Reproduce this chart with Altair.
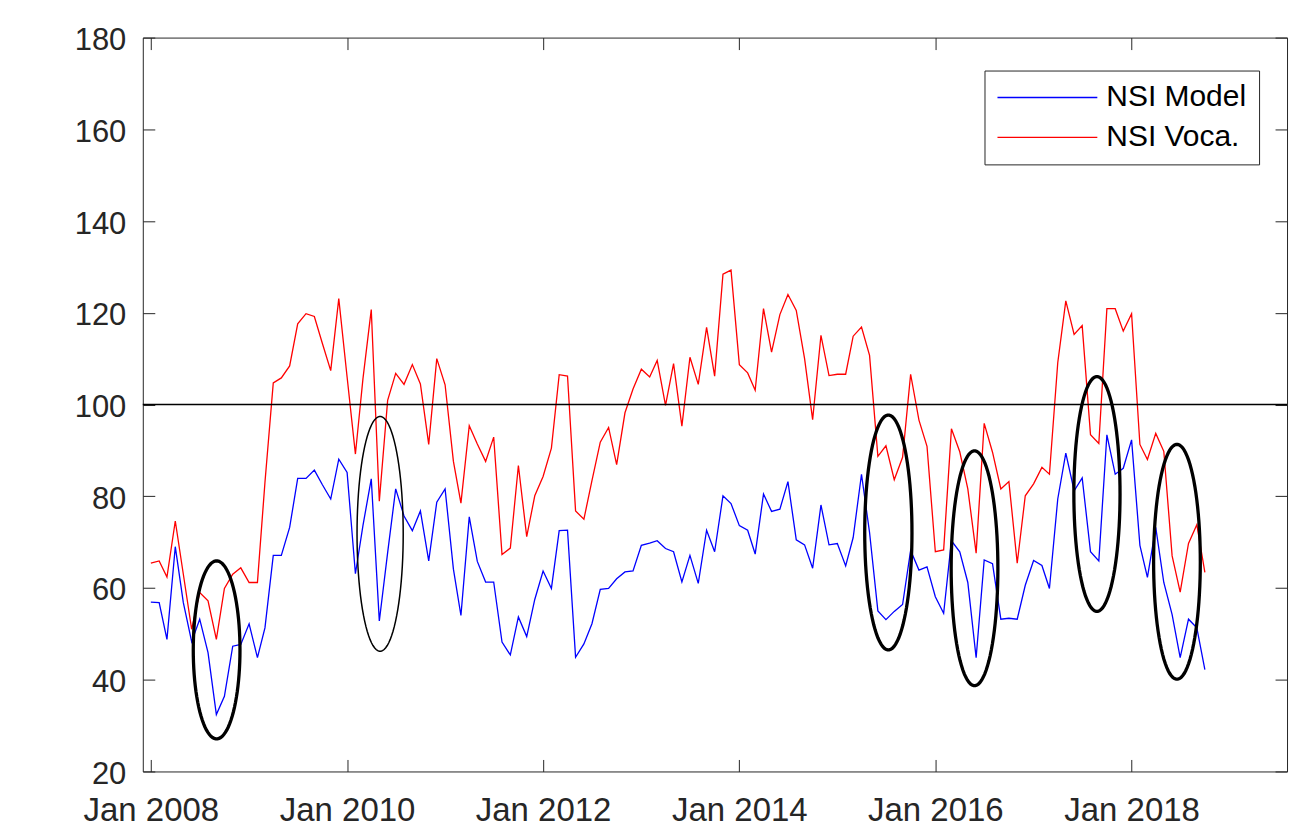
import altair as alt
import pandas as pd
import numpy as np

# ---------------- data ----------------
start_month = "2008-01-01"
series_names = ["NSI Model", "NSI Voca."]
series_colors = ["#0000ff", "#ff0000"]

nsi_model = [
    56.9, 56.8, 48.8, 69.0, 56.8, 48.3, 53.2, 45.9, 32.4, 36.4, 47.3, 47.7,
    52.2, 44.8, 51.3, 67.1, 67.1, 73.2, 83.9, 83.9, 85.7, 82.5, 79.4, 88.1,
    85.2, 63.1, 73.6, 83.8, 52.8, 67.7, 81.6, 75.7, 72.5, 76.8, 65.9, 78.7,
    81.6, 64.1, 54.0, 75.5, 65.8, 61.3, 61.3, 48.2, 45.4, 53.7, 49.4, 57.5,
    63.7, 59.9, 72.5, 72.6, 44.9, 47.8, 52.2, 59.7, 59.9, 62.0, 63.5, 63.7,
    69.3, 69.8, 70.3, 68.6, 67.9, 61.3, 67.1, 61.0, 72.6, 67.9, 80.1, 78.4,
    73.6, 72.6, 67.4, 80.5, 76.7, 77.2, 83.2, 70.5, 69.4, 64.3, 78.1, 69.4,
    69.7, 64.8, 71.0, 84.8, 72.1, 55.0, 53.1, 54.9, 56.4, 68.2, 63.9, 64.6,
    58.1, 54.5, 70.3, 67.9, 61.2, 44.8, 66.1, 65.3, 53.2, 53.4, 53.2, 60.6,
    66.0, 64.9, 59.9, 79.4, 89.4, 81.2, 84.0, 67.9, 65.9, 93.4, 84.8, 86.1,
    92.3, 69.3, 62.3, 73.2, 61.2, 54.2, 44.8, 53.2, 51.3, 42.2,
]
nsi_voca = [
    65.4, 65.9, 62.4, 74.6, 63.0, 51.0, 59.0, 57.2, 48.8, 59.9, 63.0, 64.4,
    61.2, 61.2, 83.0, 104.7, 105.8, 108.4, 117.6, 119.8, 119.2, 113.3, 107.4, 123.1,
    106.0, 89.2, 105.6, 120.7, 78.9, 100.9, 106.8, 104.4, 108.7, 104.5, 91.3, 110.0,
    104.3, 87.6, 78.5, 95.4, 91.4, 87.6, 92.9, 67.3, 68.7, 86.7, 71.2, 80.1,
    84.3, 90.5, 106.5, 106.2, 76.8, 75.0, 83.4, 91.8, 95.0, 86.9, 98.2, 103.4,
    107.7, 106.0, 109.6, 99.8, 108.9, 95.3, 110.3, 104.4, 116.8, 106.2, 128.4, 129.3,
    108.7, 106.9, 103.1, 120.9, 111.4, 119.6, 124.0, 120.5, 110.0, 96.7, 115.1, 106.3,
    106.6, 106.6, 114.9, 116.9, 110.7, 88.7, 91.0, 83.6, 88.5, 106.6, 96.6, 90.9,
    67.9, 68.3, 94.7, 89.7, 81.6, 67.6, 95.9, 89.6, 81.6, 83.2, 65.4, 80.1,
    82.7, 86.3, 84.8, 109.1, 122.6, 115.3, 117.2, 93.4, 91.5, 120.9, 120.9, 116.0,
    119.8, 91.3, 88.0, 93.7, 89.8, 67.0, 59.1, 69.7, 73.8, 63.4,
]
reference_level = [100]

# highlighted ellipses: centre date, centre value, half width (days), half height (value units), line width
ell_centers = ["2008-09-02", "2010-05-04", "2015-07-10", "2016-05-26", "2017-08-25", "2018-06-19"]
ell_values = [46.5, 71.8, 72.1, 64.3, 80.5, 65.7]
ell_half_days = [87, 86, 88, 87, 86, 87]
ell_half_values = [19.4, 25.6, 25.6, 25.6, 25.6, 25.6]
ell_widths = [3.3, 1.5, 3.3, 3.3, 3.3, 3.3]

y_tick_values = [20, 40, 60, 80, 100, 120, 140, 160, 180]
x_tick_years = [2008, 2010, 2012, 2014, 2016, 2018]

# ---------------- tables ----------------
dates = pd.date_range(start_month, periods=len(nsi_model), freq="MS")
df = pd.DataFrame({
    "date": list(dates) + list(dates),
    "value": nsi_model + nsi_voca,
    "series": [series_names[0]] * len(nsi_model) + [series_names[1]] * len(nsi_voca),
})

rows = []
n_seg = 90
for i, (c, v, hd, hv, w) in enumerate(zip(ell_centers, ell_values, ell_half_days, ell_half_values, ell_widths)):
    c0 = pd.Timestamp(c)
    for k in range(n_seg + 1):
        t = 2 * np.pi * k / n_seg
        rows.append({
            "id": i,
            "k": k,
            "date": c0 + pd.to_timedelta(hd * np.cos(t), unit="D"),
            "value": v + hv * np.sin(t),
            "w": w,
        })
ell_df = pd.DataFrame(rows)
ref_df = pd.DataFrame({"ref": reference_level})

# ---------------- scales / axes ----------------
FONT = "Liberation Sans"
AX = "#262626"
x_scale = alt.Scale(domain=[alt.DateTime(year=2007, month=12, date=2),
                            alt.DateTime(year=2019, month=8, date=3)], nice=False)
y_scale = alt.Scale(domain=[20, 180], nice=False, zero=False)
x_vals = [alt.DateTime(year=y, month=1, date=1) for y in x_tick_years]

x_label_axis = alt.Axis(orient="bottom", values=x_vals, format="%b %Y", title=None,
                        ticks=False, domain=False, grid=False, labelFontSize=33,
                        labelFont=FONT, labelColor=AX, labelPadding=23, labelFlush=False,
                        labelOverlap=False)
y_label_axis = alt.Axis(orient="left", values=y_tick_values, title=None, ticks=False,
                        domain=False, grid=False, labelFontSize=31, labelFont=FONT,
                        labelColor=AX, labelPadding=17, labelOffset=3, labelOverlap=False)


def tick_axis(orient, vals):
    return alt.Axis(orient=orient, values=vals, title=None, labels=False, domain=False,
                    grid=False, ticks=True, tickSize=12, tickColor=AX, tickWidth=1,
                    offset=-12)


legend = alt.Legend(orient="none", legendX=843, legendY=33, title=None,
                    symbolType="stroke", symbolSize=10000, symbolStrokeWidth=1.3,
                    clipHeight=30, labelFontSize=30, labelFont=FONT, labelColor="#000000",
                    labelOffset=8, padding=12, rowPadding=10, strokeColor=AX,
                    fillColor="white", cornerRadius=0, labelLimit=0)

lines = alt.Chart(df).mark_line(strokeWidth=1.3).encode(
    x=alt.X("date:T", scale=x_scale, axis=x_label_axis),
    y=alt.Y("value:Q", scale=y_scale, axis=y_label_axis),
    color=alt.Color("series:N", scale=alt.Scale(domain=series_names, range=series_colors),
                    legend=legend),
)

rule = alt.Chart(ref_df).mark_rule(color="black", strokeWidth=1.3).encode(
    y=alt.Y("ref:Q", scale=y_scale, axis=None),
)

ellipses = alt.Chart(ell_df).mark_line(color="black").encode(
    x=alt.X("date:T", scale=x_scale, axis=None),
    y=alt.Y("value:Q", scale=y_scale, axis=None),
    detail="id:N",
    order="k:Q",
    strokeWidth=alt.StrokeWidth("w:Q", scale=None),
)

ticks_a = alt.Chart(df).mark_point(opacity=0).encode(
    x=alt.X("date:T", scale=x_scale, axis=tick_axis("bottom", x_vals)),
    y=alt.Y("value:Q", scale=y_scale, axis=tick_axis("left", y_tick_values)),
)
ticks_b = alt.Chart(df).mark_point(opacity=0).encode(
    x=alt.X("date:T", scale=x_scale, axis=tick_axis("top", x_vals)),
    y=alt.Y("value:Q", scale=y_scale, axis=tick_axis("right", y_tick_values)),
)

chart = alt.layer(lines, rule, ellipses, ticks_a, ticks_b).resolve_axis(
    x="independent", y="independent"
).properties(
    width=1146, height=735,
    autosize=alt.AutoSizeParams(type="none"),
    padding={"left": 135, "top": 29, "right": 20, "bottom": 55},
).configure_view(stroke=AX, strokeWidth=1)

chart.save("out.html", embed_options={"renderer": "svg", "actions": False})
